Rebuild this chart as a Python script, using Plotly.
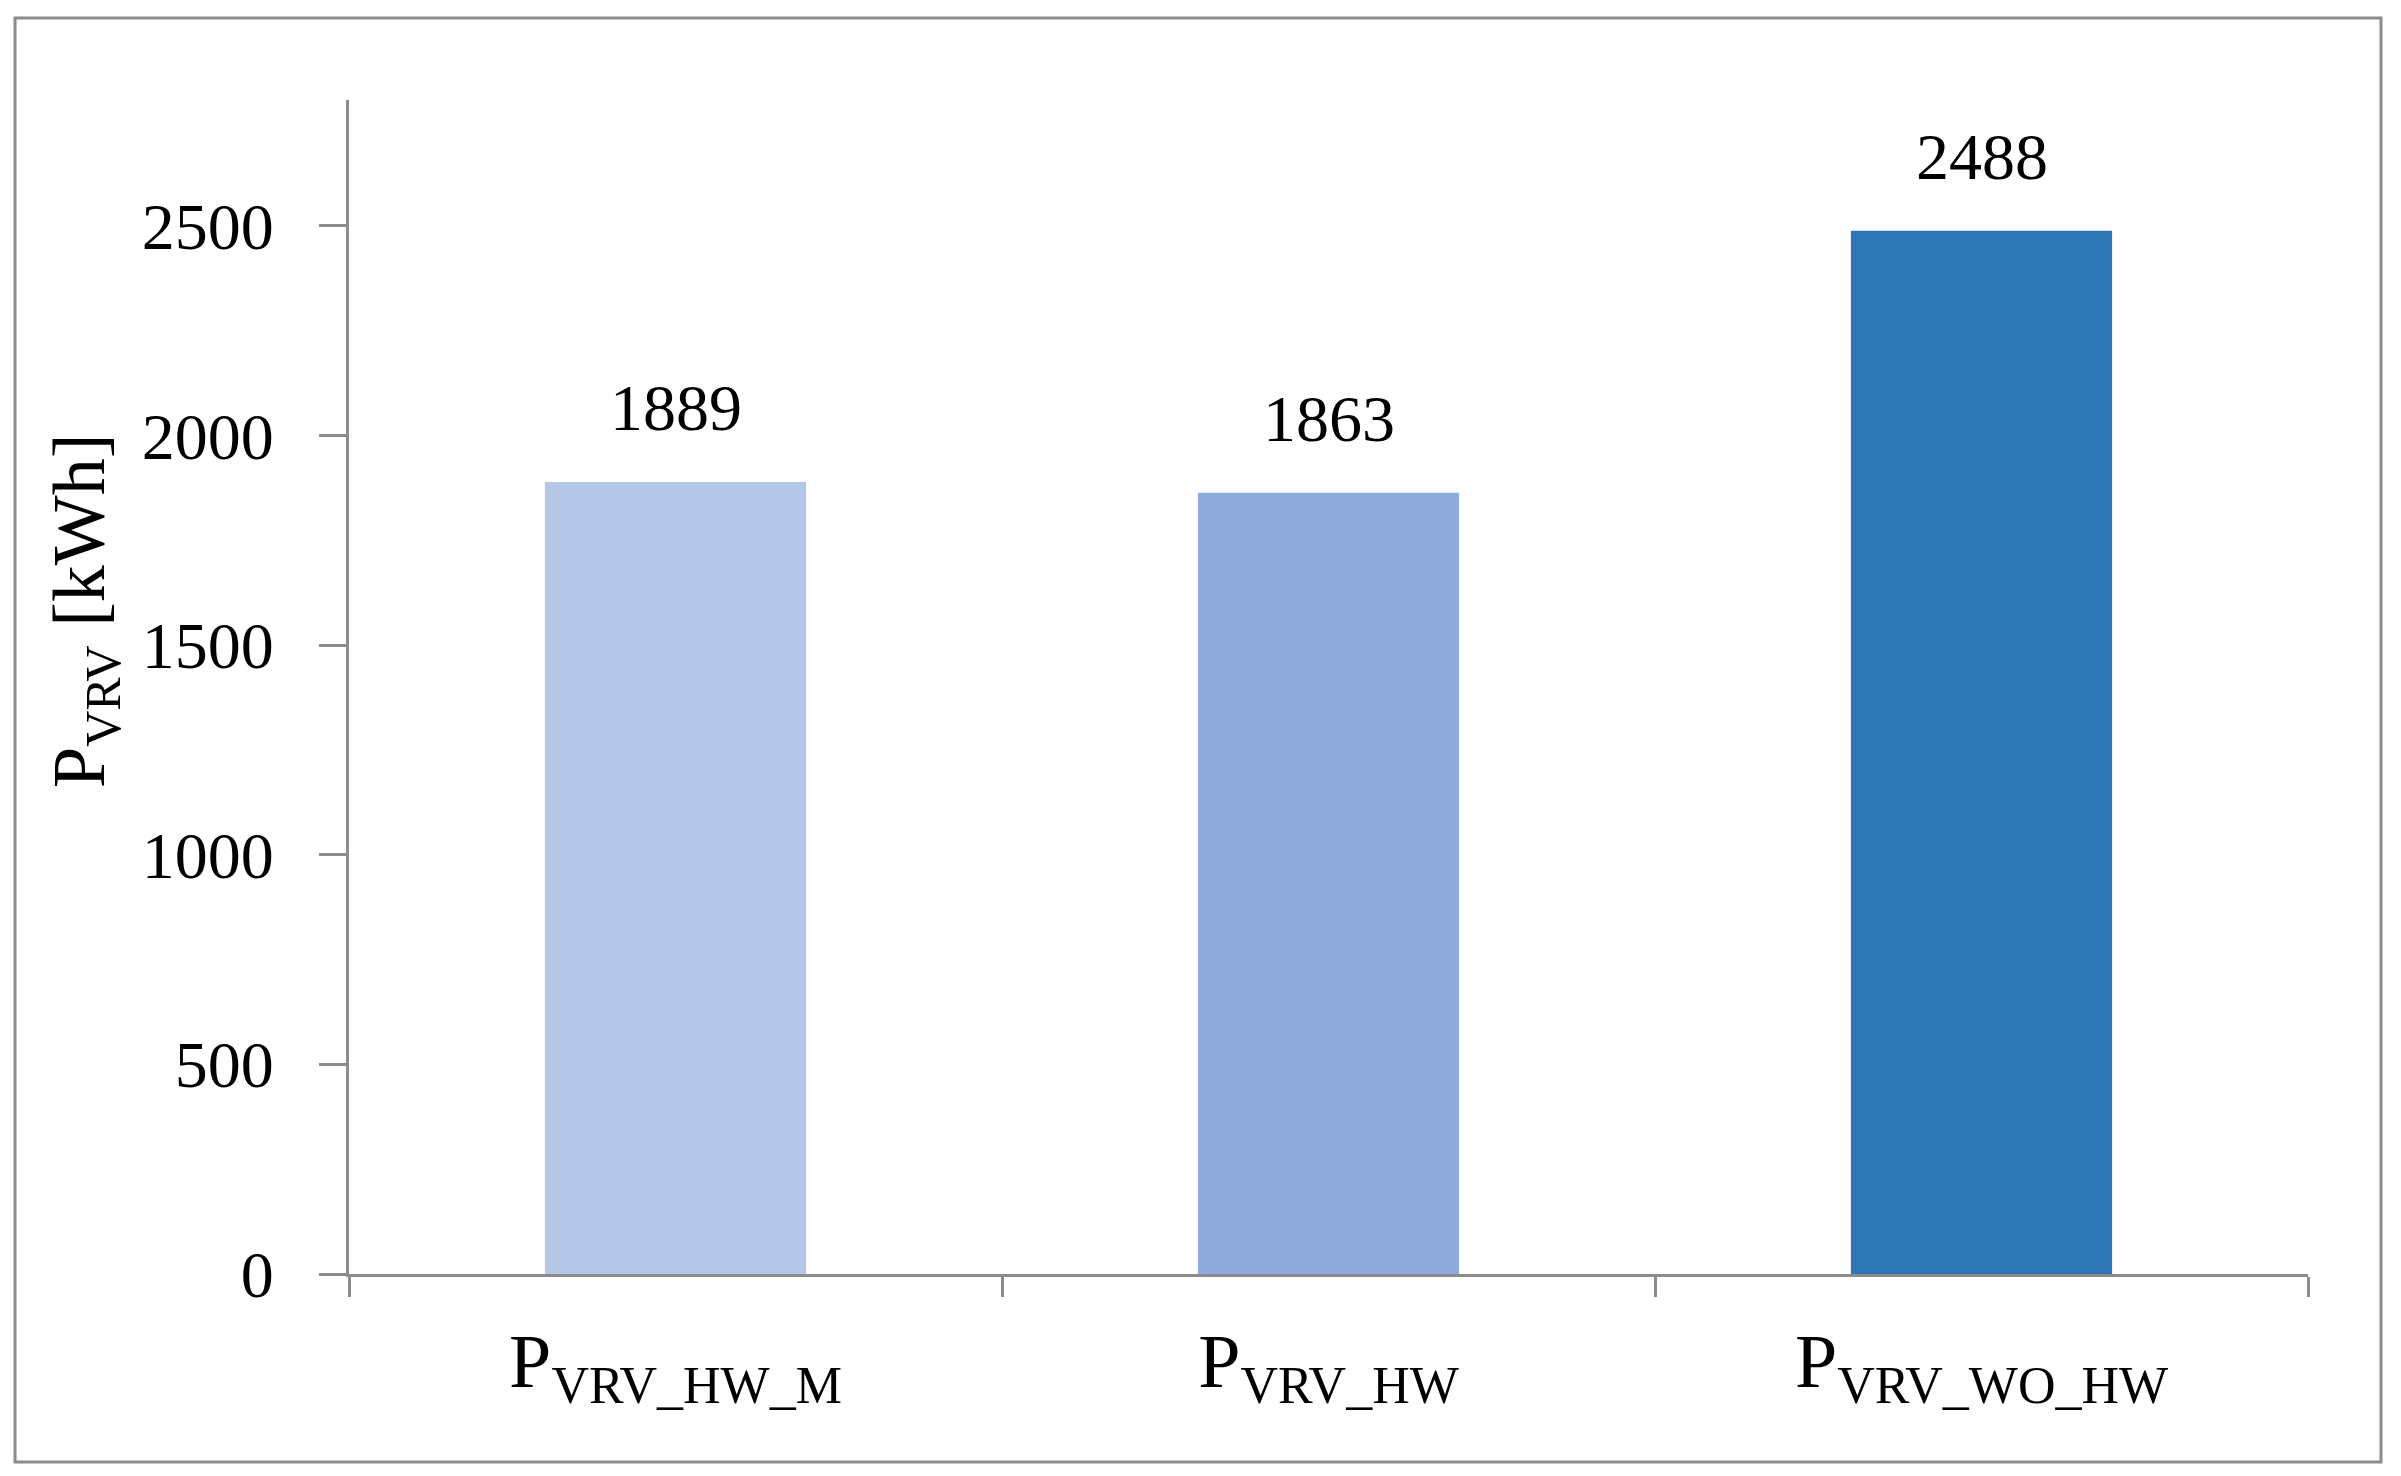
import plotly.graph_objects as go

categories = ["P<sub><span style='font-size:52px'>VRV_HW_M</span></sub>",
              "P<sub><span style='font-size:52px'>VRV_HW</span></sub>",
              "P<sub><span style='font-size:52px'>VRV_WO_HW</span></sub>"]
values = [1889, 1863, 2488]
bar_colors = ["#B4C7E7", "#8FAADC", "#2E75B6"]
y_ticks = [0, 500, 1000, 1500, 2000, 2500]
y_title = "P<sub><span style='font-size:50px'>VRV</span></sub> [kWh]"

FONT = "Palatino Linotype, Book Antiqua, Liberation Serif, serif"
GRAY = "#8C8C8C"
FS = 66
FS_BIG = 74

OFF = 8  # page body margin
W, H = 2401 - 2 * OFF, 1476 - 2 * OFF
L, T = 349 - OFF, 100 - OFF
R = W - (2308 - OFF)
B = H - (1274 - OFF)
pw, ph = W - L - R, H - T - B

def px_x(p):
    return (p - OFF - L) / pw

def px_y(p):
    return (H - B - (p - OFF)) / ph

fig = go.Figure()
fig.add_trace(go.Bar(
    x=categories, y=values, marker=dict(color=bar_colors, line=dict(width=0)),
    width=0.4, showlegend=False, hoverinfo="y",
))

for c, v in zip(categories, values):
    fig.add_annotation(x=c, y=v, text=str(v), showarrow=False, yanchor="bottom",
                       yshift=36, font=dict(family=FONT, size=FS, color="black"))

fig.add_annotation(xref="paper", yref="paper", x=px_x(84), y=px_y(611), text=y_title,
                   textangle=-90, showarrow=False, xanchor="center", yanchor="middle",
                   font=dict(family=FONT, size=FS_BIG, color="black"))

fig.add_shape(type="rect", xref="paper", yref="paper",
              x0=px_x(15), x1=px_x(2381), y0=px_y(1462), y1=px_y(18),
              line=dict(color=GRAY, width=3), fillcolor="rgba(0,0,0,0)", layer="below")

fig.update_layout(
    width=W, height=H, margin=dict(l=L, r=R, t=T, b=B),
    paper_bgcolor="white", plot_bgcolor="white",
    font=dict(family=FONT, size=FS, color="black"),
    bargap=0.6,
)
fig.update_xaxes(
    showline=True, linecolor=GRAY, linewidth=3, ticks="outside", tickson="boundaries",
    ticklen=20, tickwidth=3, tickcolor=GRAY, showgrid=False, zeroline=False,
    tickfont=dict(family=FONT, size=FS_BIG + 2, color="black"), ticklabelstandoff=19,
)
fig.update_yaxes(
    range=[0, 2800], tickvals=y_ticks, ticktext=[str(t) for t in y_ticks],
    showline=True, linecolor=GRAY, linewidth=3, ticks="outside", ticklen=27,
    tickwidth=3, tickcolor=GRAY, showgrid=False, zeroline=False,
    tickfont=dict(family=FONT, size=FS, color="black"), ticklabelstandoff=32,
)

fig.write_html("out.html")
